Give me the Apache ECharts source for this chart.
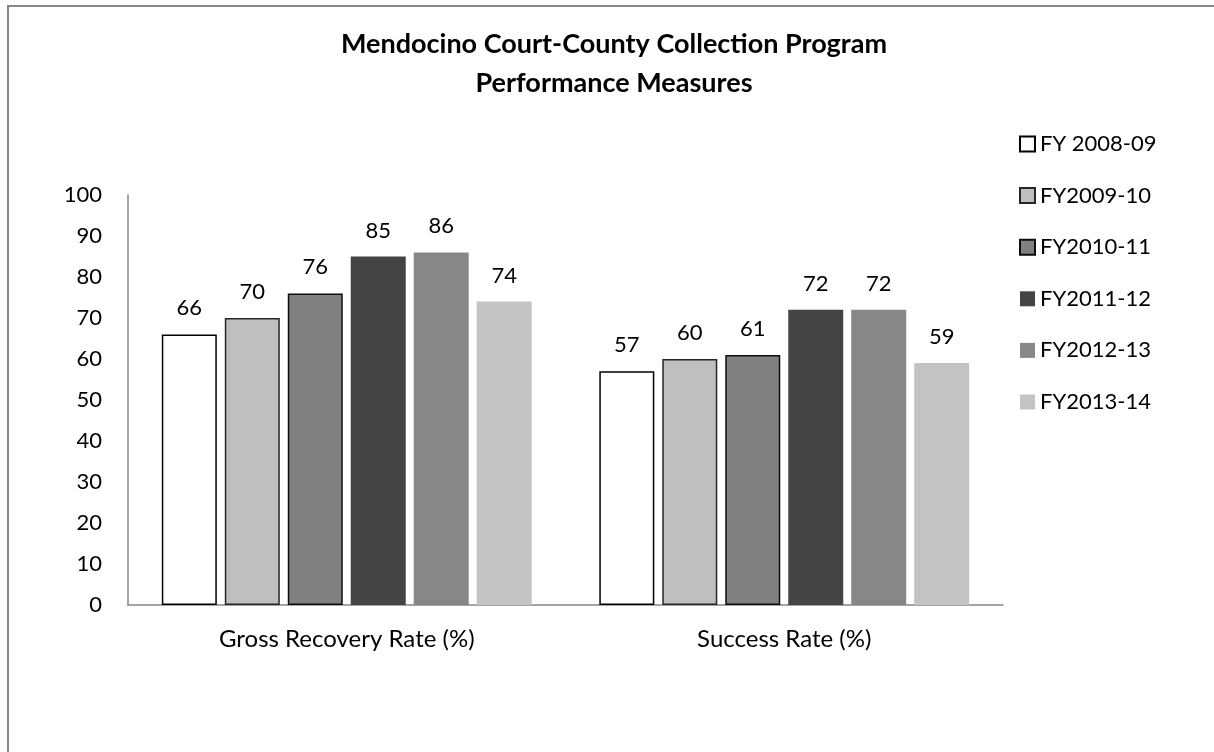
<!DOCTYPE html>
<html>
<head>
<meta charset="utf-8">
<style>
html,body{margin:0;padding:0;background:#fff;}
#chart{width:1214px;height:752px;}
</style>
<script src="https://cdn.jsdelivr.net/npm/echarts@6/dist/echarts.min.js"></script>
</head>
<body>
<div id="chart"></div>
<script>
const categories = ['Gross Recovery Rate (%)', 'Success Rate (%)'];
const seriesNames = ['FY 2008-09', 'FY2009-10', 'FY2010-11', 'FY2011-12', 'FY2012-13', 'FY2013-14'];
const fy0809 = [66, 57];
const fy0910 = [70, 60];
const fy1011 = [76, 61];
const fy1112 = [85, 72];
const fy1213 = [86, 72];
const fy1314 = [74, 59];
const yTicks = [0, 10, 20, 30, 40, 50, 60, 70, 80, 90, 100];

const seriesData = [fy0809, fy0910, fy1011, fy1112, fy1213, fy1314];
const fills = ['#FFFFFF', '#BFBFBF', '#808080', '#444444', '#878787', '#C3C3C3'];
const borders = ['#000000', '#262626', '#0d0d0d', null, null, null];

const font = 'Lato, "Open Sans", sans-serif';

const chart = echarts.init(document.getElementById('chart'), null, {renderer: 'canvas'});
const option = {
  backgroundColor: '#fff',
  animation: false,
  title: {
    text: 'Mendocino Court-County Collection Program\nPerformance Measures',
    left: 609,
    top: 20,
    textAlign: 'center',
    textStyle: {fontFamily: font, fontSize: 27, fontWeight: 'bold', color: '#000', lineHeight: 39}
  },
  graphic: [{
    type: 'rect',
    shape: {x: 8, y: 6, width: 1300, height: 900},
    style: {fill: 'none', stroke: '#868686', lineWidth: 2},
    silent: true, z: -1
  }],
  legend: {
    orient: 'vertical',
    left: 1014,
    top: 128,
    itemWidth: 15,
    itemHeight: 15,
    itemGap: 29.6,
    icon: 'rect',
    textStyle: {fontFamily: font, fontSize: 22, color: '#000'},
    data: seriesNames
  },
  grid: {left: 128, right: 211, top: 195, bottom: 147, containLabel: false},
  xAxis: {
    type: 'category',
    data: categories,
    axisLine: {lineStyle: {color: '#868686', width: 1.5}},
    axisTick: {show: false},
    axisLabel: {fontFamily: font, fontSize: 24, color: '#000', margin: 22}
  },
  yAxis: {
    type: 'value',
    min: 0, max: 100, interval: 10,
    axisLine: {show: true, lineStyle: {color: '#868686', width: 1.5}},
    axisTick: {show: false},
    splitLine: {show: false},
    axisLabel: {fontFamily: font, fontSize: 22, color: '#000', margin: 26,
      formatter: v => yTicks.includes(v) ? String(v) : ''}
  },
  series: seriesData.map((d, i) => ({
    name: seriesNames[i],
    type: 'bar',
    data: d,
    barWidth: 55,
    barGap: '14.5%',
    itemStyle: {
      color: fills[i],
      borderColor: borders[i] || fills[i],
      borderWidth: borders[i] ? 1.5 : 0
    },
    label: {show: true, position: 'top', distance: 15, fontFamily: font, fontSize: 22, color: '#000'}
  }))
};
chart.setOption(option);
</script>
</body>
</html>
